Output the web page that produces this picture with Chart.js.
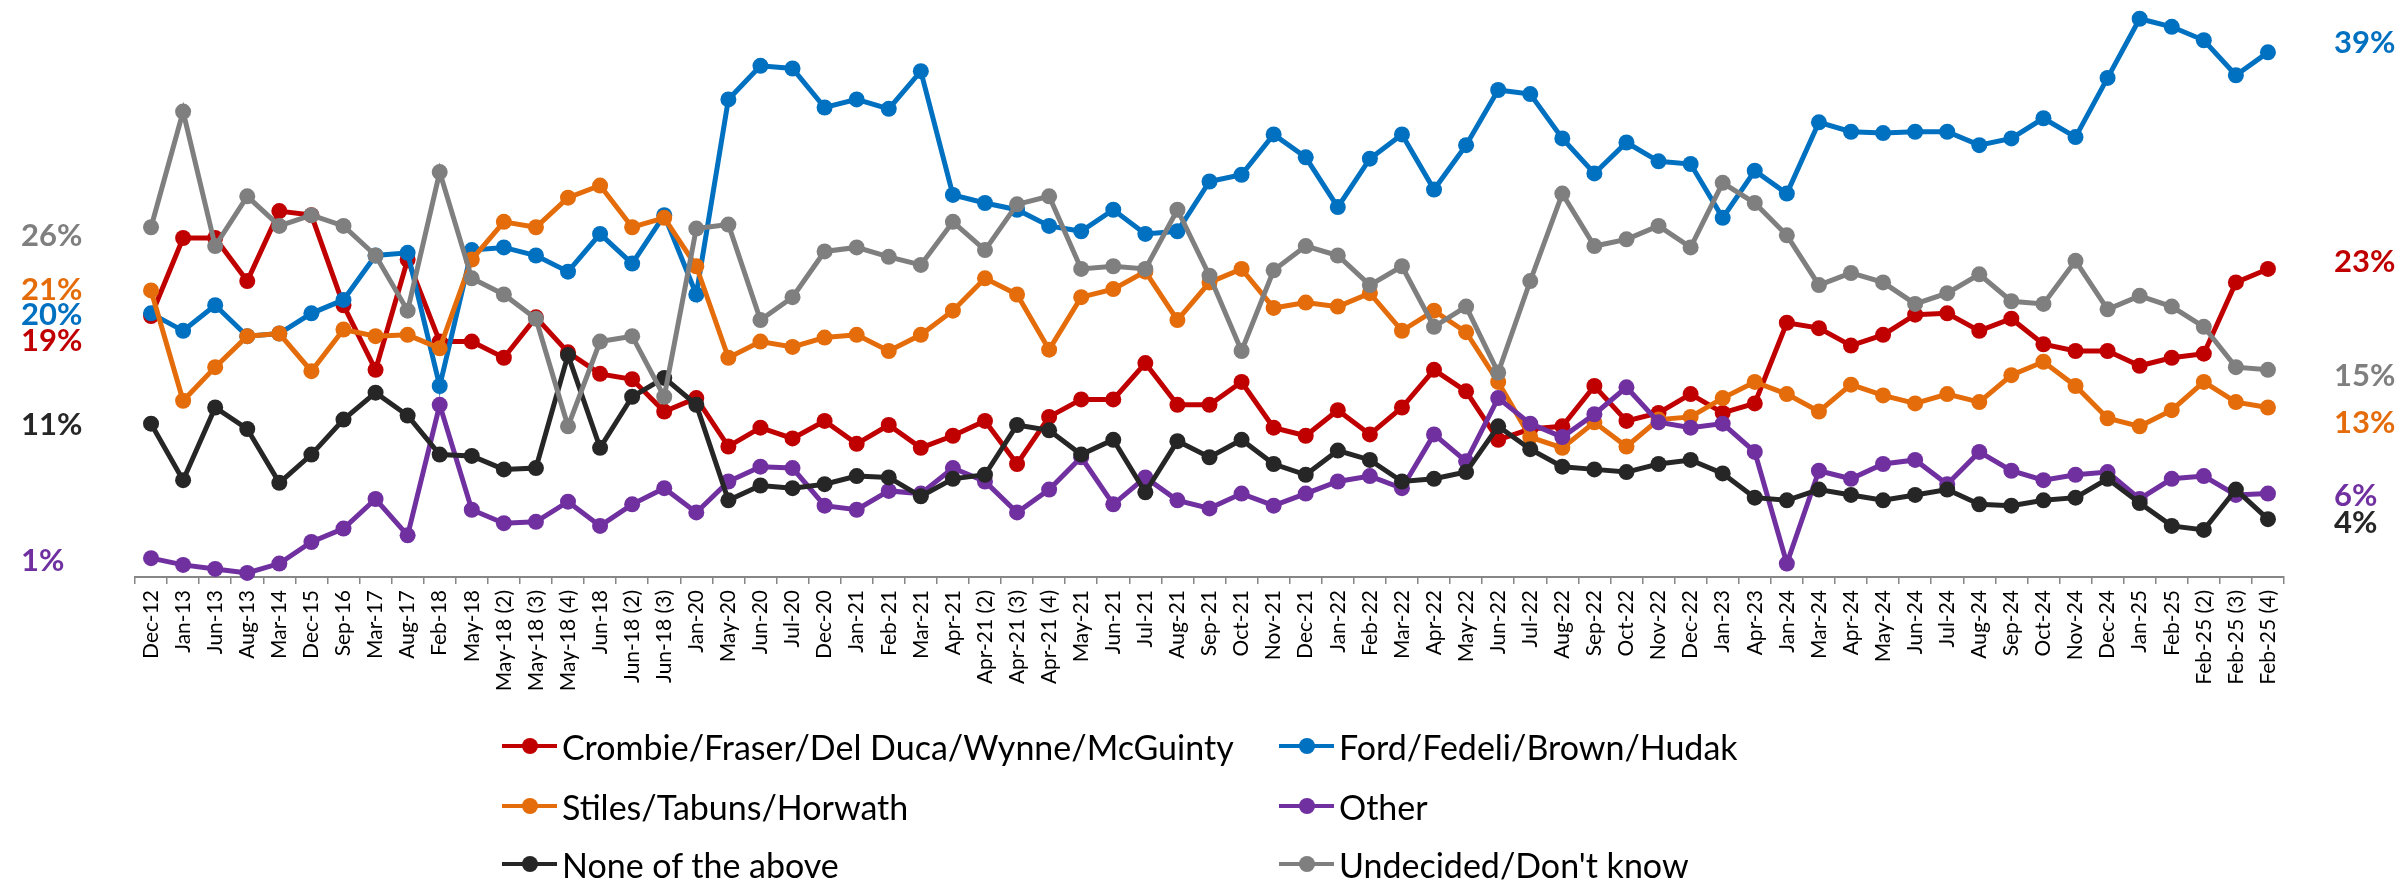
<!DOCTYPE html>
<html>
<head>
<meta charset="utf-8">
<title>Ontario vote intention</title>
<script src="https://cdn.jsdelivr.net/npm/chart.js"></script>
<style>
  html, body { margin: 0; padding: 0; background: #fff; }
  #wrap { position: relative; width: 2407px; height: 886px; overflow: hidden; }
  #chart { position: absolute; left: 0; top: 0; }
  .key { position: absolute; height: 40px; margin-top: -20px; display: flex; align-items: center;
         font-family: Lato, sans-serif; font-size: 34px; color: #000; white-space: nowrap; }
  .key i { position: relative; display: inline-block; width: 55px; height: 4px; margin-right: 5px; }
  .key i:after { content: ''; position: absolute; left: 19.5px; top: -6px; width: 16px; height: 16px;
                 border-radius: 50%; background: inherit; }
</style>
</head>
<body>
<div id="wrap">
  <canvas id="chart" width="2407" height="886"></canvas>
</div>
<script>
// poll dates (x axis)
var labels = ['Dec-12','Jan-13','Jun-13','Aug-13','Mar-14','Dec-15','Sep-16','Mar-17','Aug-17','Feb-18',
  'May-18','May-18 (2)','May-18 (3)','May-18 (4)','Jun-18','Jun-18 (2)','Jun-18 (3)','Jan-20','May-20','Jun-20',
  'Jul-20','Dec-20','Jan-21','Feb-21','Mar-21','Apr-21','Apr-21 (2)','Apr-21 (3)','Apr-21 (4)','May-21',
  'Jun-21','Jul-21','Aug-21','Sep-21','Oct-21','Nov-21','Dec-21','Jan-22','Feb-22','Mar-22',
  'Apr-22','May-22','Jun-22','Jul-22','Aug-22','Sep-22','Oct-22','Nov-22','Dec-22','Jan-23',
  'Apr-23','Jan-24','Mar-24','Apr-24','May-24','Jun-24','Jul-24','Aug-24','Sep-24','Oct-24',
  'Nov-24','Dec-24','Jan-25','Feb-25','Feb-25 (2)','Feb-25 (3)','Feb-25 (4)'];

// % support per leader
var crombie = [19.4,25.2,25.2,22.0,27.2,26.9,20.2,15.4,23.6,17.5, 17.5,16.3,19.3,16.7,15.1,14.7,12.3,13.3,9.7,11.1,
  10.3,11.6,9.9,11.3,9.6,10.5,11.6,8.4,11.9,13.2, 13.2,15.9,12.8,12.8,14.5,11.1,10.5,12.4,10.6,12.6,
  15.4,13.8,10.2,11.0,11.2,14.2,11.6,12.2,13.6,12.2, 12.9,18.9,18.5,17.2,18.0,19.5,19.6,18.3,19.2,17.3,
  16.8,16.8,15.7,16.3,16.6,21.9,22.9];
var ford = [19.6,18.3,20.2,17.9,18.1,19.6,20.6,23.9,24.1,14.2, 24.3,24.5,23.9,22.7,25.5,23.3,26.9,21.0,35.5,38.0,
  37.8,34.9,35.5,34.8,37.6,28.4,27.8,27.3,26.1,25.7, 27.3,25.5,25.7,29.4,29.9,32.9,31.2,27.5,31.1,32.9,
  28.8,32.1,36.2,35.9,32.6,30.0,32.3,30.9,30.7,26.7, 30.2,28.5,33.8,33.1,33.0,33.1,33.1,32.1,32.6,34.1,
  32.7,37.1,41.5,40.9,39.9,37.3,39.0];
var stiles = [21.3,13.1,15.6,17.9,18.1,15.3,18.4,17.9,18.0,17.0, 23.6,26.4,26.0,28.2,29.1,26.0,26.7,23.1,16.3,17.5,
  17.1,17.8,18.0,16.8,18.0,19.8,22.2,21.0,16.9,20.8, 21.4,22.7,19.1,21.9,22.9,20.0,20.4,20.1,21.1,18.3,
  19.8,18.2,14.5,10.4,9.6,11.5,9.7,11.7,11.9,13.3, 14.5,13.6,12.3,14.3,13.5,12.9,13.6,13.0,15.0,16.0,
  14.2,11.8,11.2,12.4,14.5,13.0,12.6];
var other = [1.4,0.9,0.6,0.3,1.0,2.6,3.6,5.8,3.1,12.8, 5.0,4.0,4.1,5.6,3.8,5.4,6.6,4.8,7.1,8.2,
  8.1,5.3,5.0,6.4,6.2,8.1,7.1,4.8,6.5,8.9, 5.4,7.4,5.7,5.1,6.2,5.3,6.2,7.1,7.5,6.6,
  10.6,8.6,13.3,11.4,10.4,12.1,14.1,11.5,11.1,11.4, 9.3,1.0,7.9,7.3,8.4,8.7,6.9,9.3,7.9,7.2,
  7.6,7.8,5.8,7.3,7.5,6.1,6.2];
var noneAbove = [11.4,7.2,12.6,11.0,7.0,9.1,11.7,13.7,12.0,9.1, 9.0,8.0,8.1,16.5,9.6,13.4,14.8,12.8,5.7,6.8,
  6.6,6.9,7.5,7.4,6.0,7.3,7.6,11.3,10.9,9.1, 10.2,6.3,10.1,8.9,10.2,8.4,7.6,9.4,8.7,7.1,
  7.3,7.8,11.2,9.5,8.2,8.0,7.8,8.4,8.7,7.7, 5.9,5.7,6.5,6.1,5.7,6.1,6.5,5.4,5.3,5.7,
  5.9,7.3,5.5,3.8,3.5,6.5,4.3];
var undecided = [26.0,34.6,24.6,28.3,26.1,26.9,26.1,23.9,19.8,30.1, 22.2,21.0,19.2,11.2,17.5,17.9,13.4,25.9,26.2,19.1,
  20.8,24.2,24.5,23.8,23.2,26.4,24.3,27.7,28.3,22.9, 23.1,22.9,27.3,22.4,16.8,22.8,24.6,23.9,21.7,23.1,
  18.6,20.1,15.2,22.0,28.5,24.6,25.1,26.1,24.5,29.3, 27.8,25.4,21.7,22.6,21.9,20.3,21.1,22.5,20.5,20.3,
  23.5,19.9,20.9,20.1,18.6,15.6,15.4];

var seriesNames = ['Crombie/Fraser/Del Duca/Wynne/McGuinty', 'Ford/Fedeli/Brown/Hudak', 'Stiles/Tabuns/Horwath',
  'Other', 'None of the above', "Undecided/Don't know"];
var seriesValues = [crombie, ford, stiles, other, noneAbove, undecided];

// look of each series: colour, pixel nudge of the start / end labels
var seriesStyle = [
  { color: '#C00000', startNudge: 25, endNudge: -7 },
  { color: '#0070C0', startNudge: 2, endNudge: -9 },
  { color: '#E46C0A', startNudge: 0, endNudge: 15 },
  { color: '#7030A0', startNudge: 3, endNudge: 2 },
  { color: '#262626', startNudge: 1, endNudge: 4 },
  { color: '#7F7F7F', startNudge: 9, endNudge: 6 }
];

var endLabels = {
  id: 'endLabels',
  afterDatasetsDraw: function(chart) {
    var ctx = chart.ctx;
    ctx.save();
    ctx.font = 'bold 31px Lato';
    ctx.textBaseline = 'middle';
    ctx.textAlign = 'left';
    chart.data.datasets.forEach(function(ds, i) {
      var pts = chart.getDatasetMeta(i).data;
      var st = seriesStyle[i];
      ctx.fillStyle = st.color;
      ctx.fillText(Math.round(ds.data[0]) + '%', 21, pts[0].y + st.startNudge);
      ctx.fillText(Math.round(ds.data[ds.data.length - 1]) + '%', 2334, pts[pts.length - 1].y + st.endNudge);
    });
    ctx.restore();
  }
};

var datasets = seriesNames.map(function(name, i) {
  var c = seriesStyle[i].color;
  return {
    label: name,
    data: seriesValues[i],
    borderColor: c,
    backgroundColor: c,
    pointBackgroundColor: c,
    pointBorderWidth: 0,
    pointRadius: 8,
    borderWidth: 5,
    tension: 0,
    clip: false,
    order: seriesNames.length - 1 - i
  };
});

var lineChart = new Chart(document.getElementById('chart'), {
  type: 'line',
  data: { labels: labels, datasets: datasets },
  options: {
    responsive: false,
    animation: false,
    devicePixelRatio: 1,
    layout: { padding: { left: 135, right: 123, top: 12, bottom: 0 } },
    plugins: { legend: { display: false }, tooltip: { enabled: false } },
    scales: {
      x: {
        offset: true,
        grid: { offset: true, drawOnChartArea: false, drawTicks: true, tickLength: 7, color: '#868686', lineWidth: 1.5 },
        border: { display: true, color: '#868686', width: 2 },
        ticks: { autoSkip: false, minRotation: 90, maxRotation: 90, padding: 6, color: '#000',
                 font: { family: 'Lato', size: 21 } },
        afterFit: function(scale) { scale.height = 886 - 577; }
      },
      y: { display: false, min: 0, max: 42 }
    }
  },
  plugins: [endLabels]
});

// legend, two columns like the original
var keyCols = [502, 1279];
var keyRows = [746, 806, 864];
var wrap = document.getElementById('wrap');
seriesNames.forEach(function(name, i) {
  var el = document.createElement('div');
  el.className = 'key';
  el.style.left = keyCols[i % 2] + 'px';
  el.style.top = keyRows[Math.floor(i / 2)] + 'px';
  var mark = document.createElement('i');
  mark.style.background = seriesStyle[i].color;
  el.appendChild(mark);
  el.appendChild(document.createTextNode(name));
  wrap.appendChild(el);
});
</script>
</body>
</html>
